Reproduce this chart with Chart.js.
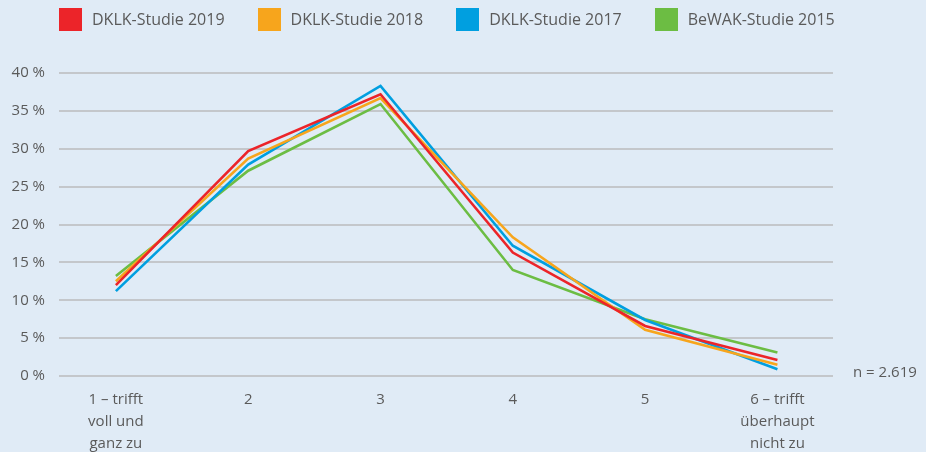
<!DOCTYPE html>
<html lang="de">
<head>
<meta charset="utf-8">
<title>DKLK-Studie</title>
<script src="https://cdn.jsdelivr.net/npm/chart.js@4.4.1/dist/chart.umd.min.js"></script>
<style>
    html, body {
        margin: 0;
        padding: 0;
        background: #e0ebf6;
        font-family: "Open Sans", sans-serif;
    }
    #wrap {
        position: relative;
        width: 926px;
        height: 452px;
        overflow: hidden;
    }
    #legend {
        position: absolute;
        left: 59px;
        top: 8px;
        display: flex;
        gap: 33px;
        color: #5a5a5a;
        font-size: 16px;
        line-height: 23px;
    }
    #legend .item { display: flex; align-items: center; }
    #legend .box { width: 23px; height: 23px; margin-right: 10px; }
    #note {
        position: absolute;
        left: 853px;
        top: 361px;
        color: #5a5a5a;
        font-size: 15px;
    }
</style>
</head>
<body>
<div id="wrap">
    <canvas id="chart" width="926" height="452"></canvas>
    <div id="legend"></div>
    <div id="note">n = 2.619</div>
</div>
<script>
// DONNÉES
const categories = [
    ['1 – trifft', 'voll und', 'ganz zu'],
    '2',
    '3',
    '4',
    '5',
    ['6 – trifft', 'überhaupt', 'nicht zu']
];
const yTicks = [0, 5, 10, 15, 20, 25, 30, 35, 40];

const studie2019 = [12.0, 29.7, 37.2, 16.3, 6.6, 2.1];
const studie2018 = [12.5, 28.7, 36.7, 18.3, 6.1, 1.5];
const studie2017 = [11.2, 27.9, 38.3, 17.2, 7.4, 0.9];
const bewak2015 = [13.2, 27.1, 35.9, 14.0, 7.5, 3.1];

const textColor = '#5a5a5a';

// points {x, y} : x = position de la catégorie (1..6)
function toPoints(values) {
    return values.map((v, i) => ({ x: i + 1, y: v }));
}

function dataset(label, values, color) {
    return {
        label: label,
        data: toPoints(values),
        borderColor: color,
        backgroundColor: color,
        borderWidth: 2.6,
        pointRadius: 0,
        tension: 0
    };
}

// GRAPHIQUE
const ctx = document.getElementById('chart').getContext('2d');
const chart = new Chart(ctx, {
    type: 'line',
    data: {
        datasets: [
            dataset('DKLK-Studie 2019', studie2019, '#ec2429'),
            dataset('DKLK-Studie 2018', studie2018, '#f7a51c'),
            dataset('DKLK-Studie 2017', studie2017, '#009fe0'),
            dataset('BeWAK-Studie 2015', bewak2015, '#6cbd43')
        ]
    },
    options: {
        responsive: false,
        animation: false,
        layout: {
            padding: { top: 73, right: 93, bottom: 0, left: 0 }
        },
        plugins: {
            legend: { display: false },
            tooltip: { enabled: false }
        },
        scales: {
            x: {
                type: 'linear',
                min: 0.57,
                max: 6.42,
                border: { display: false },
                grid: { display: false, drawTicks: false },
                ticks: {
                    stepSize: 1,
                    includeBounds: false,
                    autoSkip: false,
                    maxRotation: 0,
                    padding: 13,
                    color: textColor,
                    font: { family: 'Open Sans', size: 15, lineHeight: 1.45 },
                    callback: function(value) {
                        return Number.isInteger(value) ? categories[value - 1] : '';
                    }
                },
                afterFit: function(scale) {
                    scale.height = 76;
                }
            },
            y: {
                min: 0,
                max: 40,
                border: { display: false },
                grid: {
                    color: '#c4c7cb',
                    lineWidth: 2,
                    drawTicks: false
                },
                afterBuildTicks: function(scale) {
                    scale.ticks = yTicks.map(v => ({ value: v }));
                },
                ticks: {
                    padding: 14,
                    color: textColor,
                    font: { family: 'Open Sans', size: 15 },
                    callback: function(value) {
                        return value + ' %';
                    }
                },
                afterFit: function(scale) {
                    scale.width = 59;
                }
            }
        }
    }
});

// LÉGENDE HTML
const legend = document.getElementById('legend');
chart.data.datasets.forEach(ds => {
    const item = document.createElement('div');
    item.className = 'item';
    item.innerHTML = `<span class="box" style="background:${ds.borderColor}"></span>${ds.label}`;
    legend.appendChild(item);
});
</script>
</body>
</html>
